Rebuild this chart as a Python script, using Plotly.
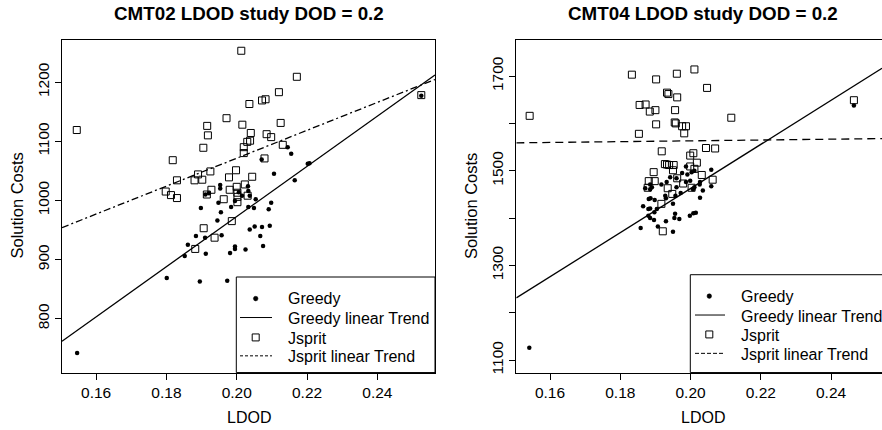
import plotly.graph_objects as go

W, H = 882, 430

# ---------------- data ----------------
cmt02_greedy_x = [0.1546, 0.1801, 0.1895, 0.1973, 0.1852, 0.1861, 0.1884, 0.1910, 0.1912, 0.1957,
                  0.1945, 0.1955, 0.1898, 0.1948, 0.1911, 0.1953, 0.1953, 0.1981, 0.1995, 0.1995,
                  0.2025, 0.2037, 0.2051, 0.2067, 0.2072, 0.2075, 0.2094, 0.1984, 0.1995, 0.2015,
                  0.2032, 0.2033, 0.2037, 0.2054, 0.2033, 0.2049, 0.2091, 0.2098, 0.2106, 0.2071,
                  0.2145, 0.2155, 0.2165, 0.2202, 0.2207, 0.2525, 0.2006, 0.1921]
cmt02_greedy_y = [742, 869, 863, 864, 906, 925, 940, 937, 910, 941,
                  966, 980, 987, 996, 1010, 1020, 1026, 911, 922, 918,
                  917, 951, 956, 940, 955, 923, 957, 989, 999, 1008,
                  1024, 1016, 1008, 1002, 989, 987, 985, 996, 1045, 1069,
                  1090, 1079, 1034, 1062, 1063, 1177, 1014, 1012]

cmt02_jsprit_x = [0.1545, 0.2013, 0.2171, 0.2120, 0.2036, 0.2072, 0.2082, 0.1971, 0.2016, 0.1916,
                  0.2125, 0.1918, 0.2040, 0.2085, 0.2098, 0.2030, 0.2038, 0.1905, 0.2020, 0.2020,
                  0.2131, 0.2079, 0.1818, 0.1998, 0.1925, 0.1890, 0.1880, 0.1902, 0.1830, 0.1978,
                  0.2044, 0.1798, 0.1813, 0.1830, 0.1928, 0.1915, 0.1980, 0.2000, 0.2023, 0.2002,
                  0.2002, 0.2031, 0.1963, 0.1986, 0.1906, 0.1937, 0.1882, 0.2525, 0.2002]
cmt02_jsprit_y = [1119, 1253, 1209, 1183, 1163, 1169, 1171, 1139, 1128, 1126,
                  1131, 1110, 1114, 1112, 1107, 1099, 1101, 1089, 1090, 1080,
                  1094, 1071, 1068, 1051, 1049, 1044, 1034, 1035, 1034, 1039,
                  1040, 1015, 1009, 1004, 1018, 1010, 1018, 1023, 1027, 1013,
                  1006, 1008, 1002, 965, 953, 937, 918, 1178, 997]

cmt04_greedy_x = [0.1541, 0.2465, 0.2059, 0.1987, 0.2011, 0.2003, 0.1976, 0.1991, 0.1942, 0.1960,
                  0.1932, 0.1917, 0.1960, 0.1987, 0.1999, 0.2027, 0.2026, 0.2007, 0.2011, 0.1885,
                  0.1890, 0.1871, 0.1885, 0.2035, 0.2059, 0.1928, 0.1930, 0.1886, 0.1881, 0.1898,
                  0.1957, 0.1972, 0.2027, 0.1865, 0.1880, 0.1885, 0.1904, 0.1897, 0.1950, 0.1880,
                  0.1885, 0.1896, 0.1930, 0.1956, 0.1954, 0.1968, 0.1998, 0.2008, 0.2015, 0.1858,
                  0.1907, 0.1950]
cmt04_greedy_y = [1126, 1638, 1502, 1509, 1500, 1497, 1495, 1492, 1486, 1484,
                  1476, 1471, 1465, 1476, 1479, 1476, 1471, 1461, 1465, 1471,
                  1465, 1463, 1461, 1458, 1467, 1447, 1442, 1442, 1440, 1438,
                  1447, 1453, 1443, 1425, 1419, 1420, 1419, 1412, 1430, 1405,
                  1400, 1396, 1393, 1409, 1400, 1398, 1405, 1410, 1411, 1379,
                  1382, 1371]

cmt04_jsprit_x = [0.1542, 0.2465, 0.1833, 0.1902, 0.1961, 0.2011, 0.2047, 0.1933, 0.1937, 0.1962,
                  0.1855, 0.1872, 0.1884, 0.1900, 0.1956, 0.1902, 0.1955, 0.1958, 0.1976, 0.1987,
                  0.1982, 0.1853, 0.2116, 0.1918, 0.1999, 0.2008, 0.2044, 0.2070, 0.1927, 0.1933,
                  0.1939, 0.1952, 0.1895, 0.1950, 0.1999, 0.2018, 0.2011, 0.1962, 0.2032, 0.2063,
                  0.1881, 0.1898, 0.1979, 0.1935, 0.1878, 0.2003, 0.1948, 0.1917, 0.1921]
cmt04_jsprit_y = [1616, 1649, 1703, 1693, 1705, 1714, 1675, 1665, 1662, 1655,
                  1639, 1640, 1625, 1628, 1628, 1598, 1602, 1600, 1594, 1594,
                  1579, 1578, 1612, 1541, 1532, 1537, 1548, 1547, 1514, 1513,
                  1512, 1512, 1497, 1501, 1509, 1517, 1504, 1484, 1491, 1481,
                  1478, 1478, 1473, 1463, 1464, 1464, 1451, 1430, 1372]

# linear trends (intercept, slope)
cmt02_greedy_trend = (124.6, 4241.0)
cmt02_jsprit_trend = (599.3, 2360.0)
cmt04_greedy_trend = (530.0, 4662.0)
cmt04_jsprit_trend = (1546.0, 86.0)

x_ticks = [0.16, 0.18, 0.20, 0.22, 0.24]
x_ticklabels = ["0.16", "0.18", "0.20", "0.22", "0.24"]
y_ticks_left = [800, 900, 1000, 1100, 1200]
y_ticklabels_left = ["800", "900", "1000", "1100", "1200"]
y_ticks_right = [1100, 1200, 1300, 1400, 1500, 1600, 1700]
y_ticklabels_right = ["1100", "", "1300", "", "1500", "", "1700"]

titles = ["CMT02 LDOD study DOD = 0.2", "CMT04 LDOD study DOD = 0.2"]
legend_labels = ["Greedy", "Greedy linear Trend", "Jsprit", "Jsprit linear Trend"]

# ---------------- layout geometry (pixels) ----------------
FONT = "Liberation Sans, Arial, sans-serif"
L_X0, L_X1 = 62.0, 435.0
R_X0, R_X1 = 516.3, 882.0
P_Y0, P_Y1 = 40.3, 374.3
xr_left = [0.1503, 0.2564]
yr_left = [709.0, 1271.0]
xr_right = [0.1504, 0.2545]
yr_right = [1073.5, 1776.0]


def px(x):
    return x / W


def py(y):
    return 1 - y / H


fig = go.Figure()

greedy_marker = dict(symbol="circle", size=4.5, color="black", line=dict(width=0))
jsprit_marker = dict(symbol="square-open", size=7, color="black", line=dict(width=1, color="black"))

panels = [
    ("x", "y", cmt02_greedy_x, cmt02_greedy_y, cmt02_jsprit_x, cmt02_jsprit_y,
     cmt02_greedy_trend, cmt02_jsprit_trend, xr_left, "7px,3px,2px,3px"),
    ("x2", "y2", cmt04_greedy_x, cmt04_greedy_y, cmt04_jsprit_x, cmt04_jsprit_y,
     cmt04_greedy_trend, cmt04_jsprit_trend, xr_right, "8px,5px"),
]

for xa, ya, gx, gy, jx, jy, gt, jt, xr, dash in panels:
    fig.add_trace(go.Scatter(x=gx, y=gy, mode="markers", marker=greedy_marker,
                             xaxis=xa, yaxis=ya, showlegend=False, name="Greedy"))
    fig.add_trace(go.Scatter(x=xr, y=[gt[0] + gt[1] * v for v in xr], mode="lines",
                             line=dict(color="black", width=1.3), xaxis=xa, yaxis=ya,
                             showlegend=False, name="Greedy linear Trend"))
    fig.add_trace(go.Scatter(x=jx, y=jy, mode="markers", marker=jsprit_marker,
                             xaxis=xa, yaxis=ya, showlegend=False, name="Jsprit"))
    fig.add_trace(go.Scatter(x=xr, y=[jt[0] + jt[1] * v for v in xr], mode="lines",
                             line=dict(color="black", width=1.3, dash=dash), xaxis=xa, yaxis=ya,
                             showlegend=False, name="Jsprit linear Trend"))

axis_common = dict(showgrid=False, zeroline=False, showline=True, linecolor="black", linewidth=1,
                   ticks="outside", ticklen=6, tickcolor="black", tickwidth=1,
                   tickfont=dict(family=FONT, size=15.5, color="black"))

fig.update_layout(
    width=W, height=H, margin=dict(l=0, r=0, t=0, b=0),
    paper_bgcolor="white", plot_bgcolor="white", showlegend=False,
    xaxis=dict(domain=[px(L_X0), px(L_X1)], range=xr_left, tickvals=x_ticks, ticktext=x_ticklabels,
               mirror=True, anchor="y", **axis_common),
    yaxis=dict(domain=[py(P_Y1), py(P_Y0)], range=yr_left, tickvals=y_ticks_left,
               ticktext=y_ticklabels_left, tickangle=-90, mirror=True, anchor="x", **axis_common),
    xaxis2=dict(domain=[px(R_X0), px(R_X1)], range=xr_right, tickvals=x_ticks, ticktext=x_ticklabels,
                mirror=True, anchor="y2", **axis_common),
    yaxis2=dict(domain=[py(P_Y1), py(P_Y0)], range=yr_right, tickvals=y_ticks_right,
                ticktext=y_ticklabels_right, tickangle=-90, mirror=False, anchor="x2", **axis_common),
)

annotations = []
shapes = []

# titles and axis titles
for title, cx, yx in [(titles[0], 248.5, 17.5), (titles[1], 702.5, 471.0)]:
    annotations.append(dict(text="<b>%s</b>" % title, x=px(cx), y=py(14), xref="paper", yref="paper",
                            showarrow=False, xanchor="center", yanchor="middle",
                            font=dict(family=FONT, size=18.8, color="black")))
    annotations.append(dict(text="LDOD", x=px(cx), y=py(419), xref="paper", yref="paper",
                            showarrow=False, xanchor="center", yanchor="middle",
                            font=dict(family=FONT, size=16, color="black")))
    annotations.append(dict(text="Solution Costs", x=px(yx), y=py(207), xref="paper", yref="paper",
                            showarrow=False, xanchor="center", yanchor="middle", textangle=-90,
                            font=dict(family=FONT, size=16.5, color="black")))

# legends (drawn manually, like R's legend box)
legends = [
    dict(box=(236.3, 278.3, 435.0, 374.3), sym_x=255.7, line=(240.0, 272.0), text_x=285.7,
         rows=[300.0, 320.0, 340.0, 358.5], dash="3px,2px"),
    dict(box=(690.3, 276.0, 895.0, 374.3), sym_x=709.3, line=(695.0, 725.0), text_x=738.7,
         rows=[297.5, 317.5, 337.0, 356.0], dash="4px,2px"),
]
for lg in legends:
    x0, y0, x1, y1 = lg["box"]
    shapes.append(dict(type="rect", xref="paper", yref="paper", x0=px(x0), x1=px(x1), y0=py(y1), y1=py(y0),
                       line=dict(color="black", width=1), fillcolor="white", layer="above"))
    r = lg["rows"]
    sx = lg["sym_x"]
    shapes.append(dict(type="circle", xref="paper", yref="paper", x0=px(sx - 2.3), x1=px(sx + 2.3),
                       y0=py(r[0] + 2.3), y1=py(r[0] - 2.3), fillcolor="black",
                       line=dict(color="black", width=0.5), layer="above"))
    shapes.append(dict(type="line", xref="paper", yref="paper", x0=px(lg["line"][0]), x1=px(lg["line"][1]),
                       y0=py(r[1] - 1), y1=py(r[1] - 1), line=dict(color="black", width=1), layer="above"))
    shapes.append(dict(type="rect", xref="paper", yref="paper", x0=px(sx - 3.5), x1=px(sx + 3.5),
                       y0=py(r[2] + 2.5), y1=py(r[2] - 4.5), line=dict(color="black", width=1),
                       fillcolor="white", layer="above"))
    shapes.append(dict(type="line", xref="paper", yref="paper", x0=px(lg["line"][0]), x1=px(lg["line"][1]),
                       y0=py(r[3] - 1), y1=py(r[3] - 1), line=dict(color="black", width=1, dash=lg["dash"]),
                       layer="above"))
    for label, ry in zip(legend_labels, r):
        annotations.append(dict(text=label, x=px(lg["text_x"]), y=py(ry), xref="paper", yref="paper",
                                showarrow=False, xanchor="left", yanchor="middle",
                                font=dict(family=FONT, size=16, color="black")))

fig.update_layout(annotations=annotations, shapes=shapes)
fig.write_html("out.html", config={"displayModeBar": False},
               post_script="document.body.style.margin='0';document.body.style.overflow='hidden';")
